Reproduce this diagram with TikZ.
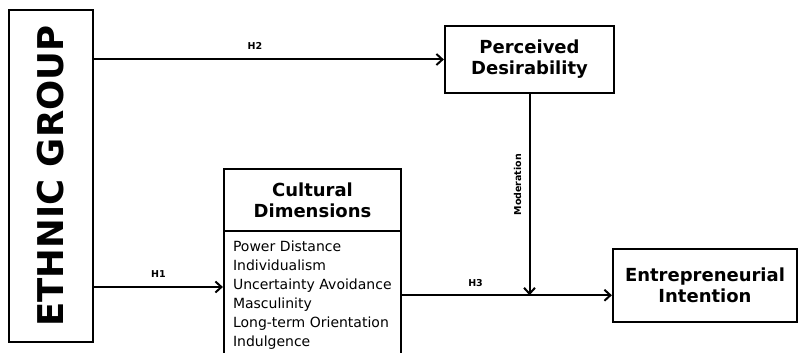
\documentclass[tikz,border=0pt]{standalone}
\usepackage{fontspec}
\setmainfont{DejaVu Sans}
\usepackage{tikz}
\usetikzlibrary{arrows.meta,positioning,calc}

\begin{document}
\begin{tikzpicture}[
      x=1pt,y=-1pt,
      box/.style={draw,line width=2.2pt,inner sep=0pt,align=center,
                  font=\fontsize{18}{21}\selectfont\bfseries},
      lbl/.style={font=\fontsize{9.5}{10}\selectfont\bfseries},
      arrow/.style={-{Straight Barb[length=6pt,width=11pt,line width=2pt]},
                    line width=2pt},
    ]
    \useasboundingbox (0,0) rectangle (798,353);

    % Ethnic group
    \node[box,minimum width=84pt,minimum height=332pt] (ethnic) at (51,176)
      {\rotatebox{90}{\fontsize{35.5}{37}\selectfont ETHNIC GROUP}};

    % Perceived desirability
    \node[box,minimum width=169pt,minimum height=67pt] (desir) at (529.5,59.5)
      {Perceived\\Desirability};

    % Cultural dimensions
    \node[box,minimum width=177pt,minimum height=62pt] (cult) at (312.5,200)
      {Cultural\\Dimensions};
    \node[box,below=-2.2pt of cult,minimum width=177pt,minimum height=128.5pt,
          anchor=north,align=left,text width=159pt,
          font=\fontsize{14}{19}\selectfont,inner sep=0pt] (dims) {%
      Power Distance\\
      Individualism\\
      Uncertainty Avoidance\\
      Masculinity\\
      Long-term Orientation\\
      Indulgence\\[6pt]
    };

    % Entrepreneurial intention
    \node[box,minimum width=184pt,minimum height=73pt] (intent) at (705,285.5)
      {Entrepreneurial\\Intention};

    \coordinate (h1) at (0,287);

    % Arrows
    \draw[arrow] (ethnic.east |- desir.west) -- (desir.west)
      node[lbl,pos=0.46,above=6pt]{H2};
    \draw[arrow] (ethnic.east |- h1) -- (dims.west |- h1)
      node[lbl,midway,above=5pt]{H1};
    \draw[arrow] (dims.east) -- (dims.east -| intent.west)
      node[lbl,pos=0.35,above=4pt]{H3};
    \draw[arrow] (desir.south) -- (desir.south |- dims.east)
      node[lbl,pos=0.45,left=4pt,rotate=90,anchor=south]{Moderation};

  \end{tikzpicture}
\end{document}
